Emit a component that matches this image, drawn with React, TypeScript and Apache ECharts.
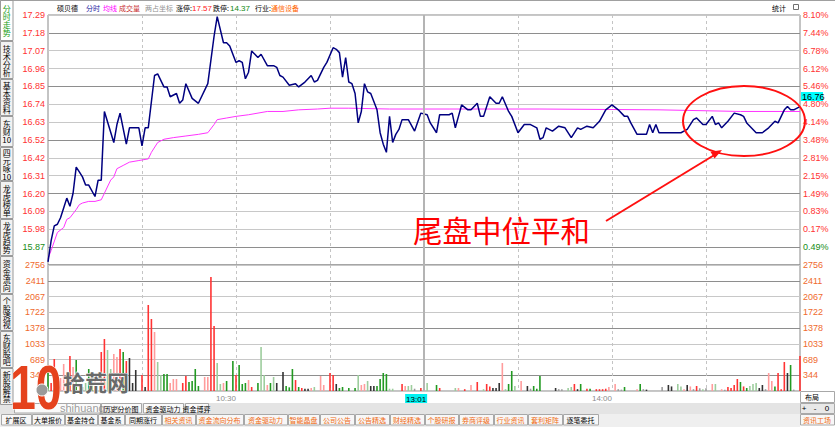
import { useEffect, useRef } from 'react';
import * as echarts from 'echarts';

// ---------- data ----------
const priceTickLabels = ['17.29','17.18','17.07','16.96','16.85','16.74','16.63','16.52','16.42','16.31','16.20','16.09','15.98','15.87'];
const pctTickLabels = ['8.10%','7.44%','6.78%','6.12%','5.46%','4.80%','4.14%','3.48%','2.81%','2.15%','1.49%','0.83%','0.17%','0.49%'];
const tickIsDown = [false,false,false,false,false,false,false,false,false,false,false,false,false,true];
const volTickLabels = ['2756','2411','2067','1722','1378','1033','689','344'];
const priceAxisTop = 17.29;
const priceAxisBottom = 15.761;
const volAxisMax = 2756;
const volAxisStep = 344.5;
const timeLabelMinutes = [60, 121, 180];
const timeLabels = ['10:30', '13:01', '14:00'];
const lastPriceLabel = '16.76';

// [minute from 9:30, price]
const priceLine: [number, number][] = [
  [0,15.78],[1,15.91],[2,16.00],[3,16.01],[4,16.05],[5,16.11],[6,16.17],[7,16.12],[8,16.20],[9,16.36],[10,16.33],[11,16.30],[12,16.25],[13,16.25],[15,16.18],[16,16.28],[17,16.28],[18,16.70],[21,16.51],[22,16.62],[23,16.69],[25,16.50],[26,16.60],[29,16.60],[30,16.49],[31,16.60],[32,16.60],[34,16.92],[35,16.93],[37,16.85],[38,16.85],[39,16.79],[41,16.81],[42,16.75],[43,16.77],[44,16.87],[46,16.78],[48,16.75],[51,16.87],[53,17.16],[54,17.28],[56,17.12],[57,17.12],[58,17.10],[60,17.00],[61,17.01],[62,17.00],[63,16.90],[64,16.94],[65,17.07],[67,17.03],[68,17.05],[70,16.98],[72,16.98],[73,16.97],[74,16.92],[75,16.91],[77,16.86],[79,16.87],[80,16.85],[82,16.88],[84,16.92],[85,16.88],[86,16.89],[88,16.97],[89,17.00],[91,17.09],[92,17.08],[93,17.06],[94,16.91],[95,17.03],[96,16.88],[97,16.87],[98,16.81],[99,16.63],[100,16.70],[101,16.87],[102,16.82],[103,16.81],[105,16.71],[106,16.57],[107,16.50],[108,16.45],[109,16.67],[110,16.51],[111,16.56],[112,16.59],[113,16.65],[115,16.65],[117,16.58],[119,16.69],[121,16.68],[122,16.63],[124,16.57],[125,16.68],[128,16.68],[129,16.69],[130,16.60],[131,16.67],[132,16.74],[134,16.71],[135,16.71],[137,16.75],[138,16.67],[139,16.67],[141,16.79],[143,16.75],[144,16.75],[145,16.79],[147,16.70],[148,16.67],[150,16.57],[152,16.62],[154,16.62],[156,16.60],[157,16.53],[158,16.54],[159,16.60],[161,16.58],[163,16.61],[165,16.60],[167,16.54],[169,16.60],[170,16.59],[172,16.61],[174,16.60],[176,16.64],[178,16.71],[180,16.74],[182,16.71],[184,16.67],[185,16.67],[186,16.63],[188,16.56],[191,16.56],[192,16.62],[193,16.57],[194,16.62],[195,16.57],[197,16.57],[200,16.57],[202,16.57],[204,16.59],[206,16.65],[207,16.66],[209,16.62],[210,16.62],[212,16.67],[213,16.62],[214,16.63],[215,16.60],[217,16.64],[219,16.69],[221,16.68],[222,16.67],[223,16.63],[226,16.57],[228,16.57],[230,16.60],[232,16.64],[233,16.63],[235,16.71],[236,16.73],[237,16.71],[238,16.71],[240,16.73]
];

const avgLine: [number, number][] = [
  [0,15.80],[1,15.85],[3,15.96],[5,15.99],[6,16.04],[7,16.05],[9,16.10],[10,16.13],[11,16.14],[13,16.15],[15,16.15],[17,16.16],[18,16.20],[20,16.28],[21,16.30],[22,16.35],[24,16.37],[26,16.39],[29,16.40],[32,16.41],[33,16.45],[35,16.51],[37,16.53],[40,16.54],[44,16.55],[48,16.56],[51,16.57],[53,16.62],[54,16.65],[57,16.66],[60,16.67],[64,16.68],[70,16.70],[75,16.70],[80,16.71],[86,16.715],[90,16.72],[96,16.72],[109,16.715],[128,16.715],[157,16.715],[195,16.71],[221,16.70],[240,16.70]
];

// [minute, volume, tone]  r=up, R=up light, g=down, G=down light, k=flat, K=flat light
const volumeBars: [number, number, string][] = [
  [0,437,'g'],[1,175,'r'],[2,700,'r'],[3,306,'R'],[4,284,'R'],[5,590,'R'],[6,219,'R'],[7,765,'r'],[8,525,'R'],[9,678,'g'],[11,87,'K'],[12,175,'G'],[13,481,'g'],[14,394,'g'],[15,240,'R'],[17,853,'r'],[18,1137,'r'],[19,897,'G'],[20,481,'G'],[21,809,'R'],[22,743,'R'],[23,918,'r'],[24,853,'g'],[25,656,'r'],[26,721,'k'],[27,175,'k'],[28,459,'k'],[30,350,'r'],[31,87,'k'],[32,1881,'r'],[33,1575,'r'],[34,1290,'R'],[35,634,'G'],[36,350,'G'],[37,372,'g'],[38,372,'g'],[39,175,'R'],[40,262,'R'],[41,262,'R'],[43,175,'r'],[44,328,'r'],[45,197,'g'],[46,219,'g'],[47,481,'g'],[48,109,'g'],[50,306,'R'],[51,306,'R'],[52,2493,'r'],[53,1421,'r'],[54,612,'G'],[55,153,'G'],[56,175,'R'],[57,219,'g'],[59,656,'g'],[60,350,'r'],[61,569,'g'],[62,153,'g'],[63,175,'g'],[64,240,'R'],[65,87,'r'],[67,175,'g'],[68,962,'G'],[69,350,'G'],[70,131,'R'],[71,175,'g'],[72,306,'G'],[73,175,'k'],[75,415,'k'],[76,109,'g'],[77,80,'g'],[78,481,'g'],[79,240,'r'],[80,87,'g'],[81,66,'r'],[82,50,'k'],[83,50,'k'],[84,66,'R'],[85,87,'G'],[87,328,'R'],[88,131,'R'],[90,394,'r'],[91,350,'r'],[92,153,'k'],[93,66,'g'],[94,87,'g'],[96,66,'g'],[98,66,'g'],[99,350,'G'],[100,131,'R'],[101,153,'R'],[102,219,'G'],[103,109,'k'],[104,109,'k'],[105,109,'g'],[106,262,'g'],[107,394,'g'],[108,372,'g'],[109,50,'G'],[110,50,'G'],[113,153,'r'],[114,109,'R'],[115,109,'G'],[116,131,'G'],[117,50,'K'],[119,66,'r'],[121,175,'G'],[124,131,'g'],[125,66,'r'],[130,66,'G'],[131,66,'R'],[133,40,'r'],[135,131,'R'],[137,197,'r'],[139,40,'G'],[140,153,'r'],[141,100,'r'],[142,66,'k'],[143,66,'k'],[144,175,'k'],[145,612,'R'],[146,40,'G'],[147,153,'g'],[148,437,'g'],[149,109,'G'],[151,219,'R'],[153,109,'k'],[154,50,'K'],[155,109,'g'],[156,50,'g'],[157,328,'g'],[162,66,'k'],[163,40,'K'],[164,40,'K'],[166,66,'G'],[167,87,'G'],[168,153,'r'],[169,40,'k'],[170,153,'g'],[172,50,'r'],[173,50,'g'],[175,40,'r'],[176,40,'r'],[177,40,'r'],[178,50,'r'],[179,87,'R'],[181,153,'R'],[182,40,'K'],[183,30,'K'],[184,87,'g'],[188,40,'R'],[189,153,'g'],[190,40,'K'],[191,30,'k'],[196,87,'K'],[198,131,'k'],[199,100,'k'],[201,153,'G'],[202,100,'G'],[203,40,'R'],[204,131,'k'],[205,100,'R'],[206,40,'K'],[207,109,'r'],[208,60,'K'],[209,40,'G'],[210,60,'K'],[212,153,'R'],[213,153,'G'],[215,40,'R'],[216,30,'K'],[217,87,'r'],[218,66,'r'],[219,131,'r'],[220,262,'r'],[221,197,'g'],[222,100,'r'],[223,66,'g'],[224,109,'G'],[225,153,'G'],[226,175,'G'],[227,66,'k'],[228,131,'k'],[229,40,'K'],[230,394,'R'],[231,219,'R'],[232,100,'g'],[233,394,'r'],[234,40,'r'],[235,634,'r'],[236,394,'k'],[237,569,'g'],[238,30,'K'],[240,765,'r']
];

const headerItems = [
  { t: '硕贝德', c: '#000000' }, { t: '分时', c: '#1a1aa0' }, { t: '均线', c: '#ff00ff' },
  { t: '成交量', c: '#c83030' }, { t: '两占坐标', c: '#909090' }, { t: '涨停:', c: '#000000' },
  { t: '17.57', c: '#ff2020' }, { t: '跌停:', c: '#000000' }, { t: '14.37', c: '#108a10' },
  { t: '行业:', c: '#000000' }, { t: '通信设备', c: '#ff6600' },
];
const headerX = [57, 86, 103, 119, 145, 176, 192, 213, 230, 255, 271];

const sideTabs = ['分时走势', '技术分析', '基本资料', '东财10', '四元咏10', '龙虎榜单', '龙虎趋势', '资金流向', '个股透视', '东财股吧', '新股解禁'];
const sideTabEdges = [0, 41, 79, 116, 147, 181, 219, 256, 294, 331, 368, 405];

const tabRow1 = ['历史分价图', '资金驱动力', '资金博弈'];
const tabRow1X = [101, 143, 185, 210];
const tabRow2 = ['扩展区', '大单报价', '基金持仓', '基金系', '同期涨行', '相关资讯', '资金流向分布', '资金驱动力', '智能晶盘', '公司公告', '公告精选', '财经精选', '个股研报', '券商评级', '行业资讯', '套利矩阵', '逐笔委托'];
const tabRow2X = [1, 32, 65, 98, 125, 162, 196, 244, 288, 320, 355, 390, 425, 459, 494, 528, 563, 599];
const tabRow2Orange = [false, false, false, false, false, true, true, true, true, true, true, true, true, true, true, true, false];

// ---------- styling ----------
const CJK = '"Noto Sans CJK SC", sans-serif';
const NUM = '"Liberation Sans Narrow", "Liberation Sans", sans-serif';
const toneColors: Record<string, string> = { r: '#ff3333', R: '#ff9c9c', g: '#229a22', G: '#9dcd9d', k: '#333333', K: '#9c9c9c' };
const RED = '#ff3232';
const GREEN = '#168c16';
const ORANGE = '#ef6a2e';
const gridLineColors = ['#c8c8c8', '#8e8e8e', '#c8c8c8'];

const nPriceSteps = priceTickLabels.length;
const priceStep = (priceAxisTop - priceAxisBottom) / nPriceSteps;
const priceTickValues = Array.from({ length: nPriceSteps + 1 }, (_, k) => priceAxisBottom + k * priceStep);

function priceLabel(v: number, which: 'p' | 'c') {
  const k = Math.round((v - priceAxisBottom) / priceStep);
  if (k < 1) return '';
  const i = nPriceSteps - k;
  const txt = which === 'p' ? priceTickLabels[i] : pctTickLabels[i];
  return `{${tickIsDown[i] ? 'dn' : 'up'}|${txt}}`;
}
function volLabel(v: number) {
  const k = Math.round(v / volAxisStep);
  if (k < 1) return '';
  return volTickLabels[volTickLabels.length - k];
}

function txt(text: string, x: number, y: number, fill: string, fontSize = 7, extra: any = {}) {
  return {
    type: 'text', x, y, z: 20, silent: true,
    style: { text, fill, fontSize, fontFamily: CJK, verticalAlign: 'middle', align: 'left', ...extra },
  };
}
function box(x: number, y: number, w: number, h: number, fill: string, stroke = '#a8a8a8') {
  return { type: 'rect', z: 15, silent: true, shape: { x, y, width: w, height: h }, style: { fill, stroke, lineWidth: 1 } };
}

function buildGraphics() {
  const g: any[] = [];
  // header
  g.push({ type: 'line', z: 15, shape: { x1: 0, y1: 0.5, x2: 835, y2: 0.5 }, style: { stroke: '#a0a0a0', lineWidth: 1 } });
  headerItems.forEach((h, i) => {
    const isNum = /^[0-9.]+$/.test(h.t);
    g.push(txt(h.t, headerX[i], 8, h.c, isNum ? 8 : 7, isNum ? { fontFamily: NUM } : {}));
  });
  g.push(txt('统计', 772, 8, '#000000', 7));
  g.push({ type: 'rect', z: 15, shape: { x: 793.5, y: 4.5, width: 5, height: 5 }, style: { fill: '#fff', stroke: '#707070', lineWidth: 1 } });

  // sidebar tabs (vertical text, one text element per tab)
  sideTabs.forEach((t, i) => {
    const y0 = sideTabEdges[i], y1 = sideTabEdges[i + 1];
    const active = i === 0;
    g.push(box(0.5, y0 + 0.5, 12.5, y1 - y0 - 1, active ? '#ffffff' : '#f2f2f2', '#9a9a9a'));
    const chars = t.endsWith('10') ? [...t.slice(0, -2).split(''), '10'] : t.split('');
    g.push({
      type: 'text', z: 20, silent: true, x: 6.8, y: (y0 + y1) / 2,
      style: {
        text: chars.join('\n'), fill: active ? '#18a018' : '#000000', fontSize: 8, lineHeight: 8,
        fontFamily: CJK, align: 'center', verticalAlign: 'middle',
      },
    });
  });

  // last price box
  g.push({ type: 'rect', z: 15, shape: { x: 801, y: 92, width: 22, height: 9 }, style: { fill: '#00ffff' } });
  g.push(txt(lastPriceLabel, 802, 96.5, '#000000', 9, { fontFamily: NUM }));

  // bottom bands
  g.push({ type: 'rect', z: 12, shape: { x: 0, y: 403, width: 800, height: 11 }, style: { fill: '#e4e4e4' } });
  g.push({ type: 'rect', z: 12, shape: { x: 0, y: 414, width: 835, height: 13 }, style: { fill: '#efefef' } });
  g.push(box(14.5, 403.5, 86, 9.5, '#fafafa'));
  tabRow1.forEach((t, i) => {
    const x0 = tabRow1X[i], x1 = tabRow1X[i + 1] - 2;
    g.push(box(x0 + 0.5, 403.5, x1 - x0, 9.5, '#fafafa'));
    g.push(txt(t, (x0 + x1) / 2, 408.5, '#000000', 7, { align: 'center' }));
  });
  tabRow2.forEach((t, i) => {
    const x0 = tabRow2X[i], x1 = tabRow2X[i + 1] - 1;
    g.push(box(x0 + 0.5, 414.5, x1 - x0, 10.5, '#f7f7f7'));
    g.push(txt(t, (x0 + x1) / 2, 420, tabRow2Orange[i] ? '#f06a10' : '#000000', 7, { align: 'center' }));
  });
  // right panel
  g.push({ type: 'rect', z: 12, shape: { x: 800, y: 391, width: 35, height: 36 }, style: { fill: '#ffffff' } });
  g.push(box(800.5, 391.5, 34, 11, '#ffffff'));
  g.push(txt('布局', 812, 397, '#000000', 7, { align: 'center' }));
  g.push(box(800.5, 403.5, 34, 10, '#e8e8e8'));
  g.push(txt('+', 804, 408.5, '#000000', 8, { align: 'center', fontFamily: NUM }));
  g.push(txt('-', 815, 408.5, '#000000', 8, { align: 'center', fontFamily: NUM }));
  g.push(txt('0', 827, 408.5, '#000000', 8, { align: 'center', fontFamily: NUM }));
  g.push(box(800.5, 414.5, 34, 10.5, '#f7f7f7'));
  g.push(txt('资讯工场', 817, 420, '#f06a10', 7, { align: 'center' }));

  // watermark
  g.push({
    type: 'text', z: 40, silent: true, x: 10, y: 388, scaleX: 0.75,
    style: { text: '10', fill: '#e5421d', fontSize: 62, fontWeight: 'bold', fontFamily: NUM, verticalAlign: 'middle', stroke: '#ffffff', lineWidth: 1 },
  });
  g.push({ type: 'circle', z: 41, silent: true, shape: { cx: 42, cy: 390, r: 6 }, style: { fill: '#9a9a9a', stroke: '#ffffff', lineWidth: 1 } });
  g.push({
    type: 'text', z: 40, silent: true, x: 63, y: 381,
    style: { text: '拾荒网', fill: '#6a6a6a', fontSize: 22, fontWeight: 'bold', fontFamily: CJK, verticalAlign: 'middle', stroke: '#ffffff', lineWidth: 1 },
  });
  g.push({
    type: 'text', z: 40, silent: true, x: 60, y: 408,
    style: { text: 'shihuang.cn', fill: '#8a8a8a', fontSize: 11, fontFamily: '"Liberation Sans", sans-serif', verticalAlign: 'middle', opacity: 0.85 },
  });

  // annotation
  g.push({ type: 'ellipse', z: 30, silent: true, shape: { cx: 744, cy: 121, rx: 61, ry: 35 }, style: { fill: 'none', stroke: '#ff1010', lineWidth: 2 } });
  g.push({ type: 'line', z: 30, silent: true, shape: { x1: 606, y1: 221, x2: 716, y2: 154 }, style: { stroke: '#ff1010', lineWidth: 2 } });
  g.push({ type: 'polygon', z: 30, silent: true, shape: { points: [[722, 150], [714.6, 158.6], [710.4, 151.8]] }, style: { fill: '#ff1010' } });
  g.push({
    type: 'text', z: 30, silent: true, x: 413, y: 229,
    style: { text: '尾盘中位平和', fill: '#ff0000', fontSize: 29.5, fontFamily: CJK, verticalAlign: 'middle' },
  });
  return g;
}

function buildOption(): any {
  const axisLabelRich = {
    up: { color: RED, fontSize: 9, fontFamily: NUM },
    dn: { color: GREEN, fontSize: 9, fontFamily: NUM },
  };
  const xCommon = {
    type: 'value', min: 0, max: 240, interval: 30,
    axisLine: { show: false }, axisTick: { show: false },
    splitLine: { show: true, lineStyle: { color: '#c4c4c4', type: [3, 3], width: 1 } },
  };
  const mid = {
    silent: true, symbol: ['none', 'none'], label: { show: false }, animation: false,
    lineStyle: { color: '#b4b4b4', type: 'solid', width: 2 },
    data: [{ xAxis: 120 }],
  };
  return {
    animation: false,
    backgroundColor: '#ffffff',
    grid: [
      { left: 48, top: 15, width: 752, height: 250, show: true, borderColor: '#888888', borderWidth: 1, outerBoundsMode: 'none' },
      { left: 48, top: 265, width: 752, height: 126, show: true, borderColor: '#888888', borderWidth: 1, outerBoundsMode: 'none' },
    ],
    xAxis: [
      { ...xCommon, gridIndex: 0, axisLabel: { show: false } },
      {
        ...xCommon, gridIndex: 1,
        axisLabel: {
          show: true, customValues: timeLabelMinutes, align: 'right', margin: 3,
          fontSize: 8, fontFamily: NUM, color: '#8c8c8c',
          formatter: (v: number) => {
            const i = timeLabelMinutes.indexOf(Math.round(v));
            if (i < 0) return '';
            return i === 1 ? `{hl|${timeLabels[i]}}` : `{n|${timeLabels[i]}}`;
          },
          rich: {
            n: { color: '#8c8c8c', fontSize: 8, fontFamily: NUM },
            hl: { color: '#000000', fontSize: 8, fontFamily: NUM, backgroundColor: '#00f0f0', padding: [1, 1, 1, 1] },
          },
        },
      },
    ],
    yAxis: [
      {
        type: 'value', gridIndex: 0, position: 'left', min: priceAxisBottom, max: priceAxisTop,
        axisLine: { show: false }, axisTick: { show: false, customValues: priceTickValues },
        axisLabel: { customValues: priceTickValues, margin: 3, fontSize: 9, fontFamily: NUM, formatter: (v: number) => priceLabel(v, 'p'), rich: axisLabelRich },
        splitLine: { show: true, lineStyle: { color: gridLineColors, width: 1 } },
      },
      {
        type: 'value', gridIndex: 0, position: 'right', min: priceAxisBottom, max: priceAxisTop,
        axisLine: { show: false }, axisTick: { show: false, customValues: priceTickValues },
        axisLabel: { customValues: priceTickValues, margin: 3, fontSize: 9, fontFamily: NUM, formatter: (v: number) => priceLabel(v, 'c'), rich: axisLabelRich },
        splitLine: { show: false },
      },
      {
        type: 'value', gridIndex: 1, position: 'left', min: 0, max: volAxisMax, interval: volAxisStep,
        axisLine: { show: false }, axisTick: { show: false },
        axisLabel: { margin: 3, fontSize: 9, fontFamily: NUM, color: ORANGE, formatter: volLabel },
        splitLine: { show: true, lineStyle: { color: gridLineColors, width: 1 } },
      },
      {
        type: 'value', gridIndex: 1, position: 'right', min: 0, max: volAxisMax, interval: volAxisStep,
        axisLine: { show: false }, axisTick: { show: false },
        axisLabel: { margin: 3, fontSize: 9, fontFamily: NUM, color: ORANGE, formatter: volLabel },
        splitLine: { show: false },
      },
    ],
    series: [
      {
        type: 'line', xAxisIndex: 0, yAxisIndex: 0, data: avgLine, showSymbol: false, symbol: 'none',
        lineStyle: { color: '#ff33ff', width: 1 }, z: 2, markLine: mid, silent: true,
      },
      {
        type: 'line', xAxisIndex: 0, yAxisIndex: 0, data: priceLine, showSymbol: false, symbol: 'none',
        lineStyle: { color: '#000080', width: 1.5 }, z: 3, silent: true,
      },
      {
        type: 'bar', xAxisIndex: 1, yAxisIndex: 2, barWidth: 1.6, silent: true, z: 2,
        data: volumeBars.map(([m, v, t]) => ({ value: [m, v], itemStyle: { color: toneColors[t] } })),
        markLine: mid,
      },
    ],
    graphic: buildGraphics(),
  };
}

export default function App() {
  const ref = useRef<HTMLDivElement>(null);
  useEffect(() => {
    if (!ref.current) return;
    const chart = echarts.init(ref.current, null, { renderer: 'svg' });
    chart.setOption(buildOption());
    return () => chart.dispose();
  }, []);
  return (
    <div
      ref={ref}
      style={{ position: 'fixed', left: 0, top: 0, width: 835, height: 427, background: '#ffffff' }}
    />
  );
}
